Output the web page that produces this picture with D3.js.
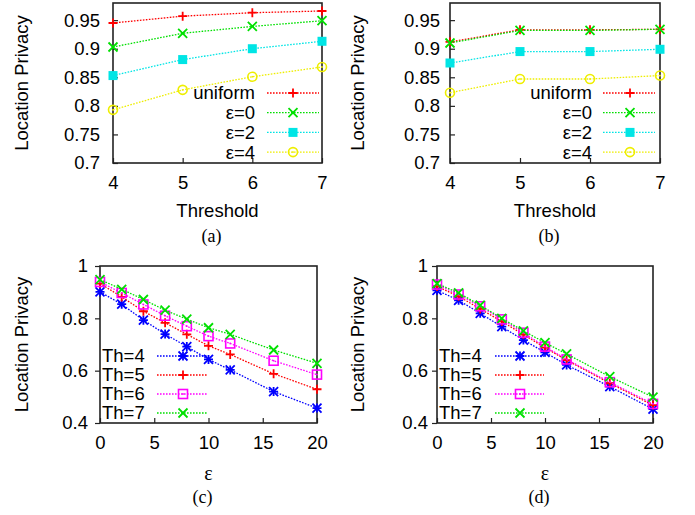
<!DOCTYPE html>
<html>
<head>
<meta charset="utf-8">
<script src="https://cdn.jsdelivr.net/npm/d3@7"></script>
<style>
  body { margin: 0; background: #fff; }
  svg text { font-family: "Liberation Sans", Arial, sans-serif; fill: #000; }
  .cap { font-family: "Liberation Serif", "Times New Roman", serif; }
</style>
</head>
<body>
<div id="chart"></div>
<script>
// x values
const thresholds = [4, 5, 6, 7];
const epsilons = [0, 2, 4, 6, 8, 10, 12, 16, 20];

// panel (a)
const aUniform = [0.945, 0.957, 0.963, 0.966];
const aEps0 = [0.903, 0.927, 0.939, 0.949];
const aEps2 = [0.853, 0.881, 0.900, 0.913];
const aEps4 = [0.793, 0.828, 0.851, 0.868];

// panel (b)
const bUniform = [0.912, 0.933, 0.933, 0.934];
const bEps0 = [0.910, 0.932, 0.932, 0.934];
const bEps2 = [0.875, 0.895, 0.895, 0.899];
const bEps4 = [0.823, 0.847, 0.847, 0.853];

// panel (c)
const cTh4 = [0.901, 0.854, 0.793, 0.740, 0.692, 0.643, 0.603, 0.520, 0.457];
const cTh5 = [0.933, 0.882, 0.827, 0.783, 0.739, 0.695, 0.662, 0.588, 0.529];
const cTh6 = [0.939, 0.897, 0.853, 0.810, 0.770, 0.732, 0.704, 0.638, 0.585];
const cTh7 = [0.948, 0.911, 0.872, 0.831, 0.797, 0.764, 0.739, 0.679, 0.628];

// panel (d)
const dTh4 = [0.907, 0.869, 0.819, 0.768, 0.717, 0.670, 0.622, 0.539, 0.453];
const dTh5 = [0.922, 0.884, 0.836, 0.788, 0.738, 0.688, 0.640, 0.552, 0.468];
const dTh6 = [0.929, 0.891, 0.846, 0.796, 0.745, 0.692, 0.643, 0.556, 0.473];
const dTh7 = [0.933, 0.897, 0.850, 0.800, 0.752, 0.707, 0.664, 0.577, 0.499];

const topLabels = ["uniform", "ε=0", "ε=2", "ε=4"];
const bottomLabels = ["Th=4", "Th=5", "Th=6", "Th=7"];
const topYTicks = [0.7, 0.75, 0.8, 0.85, 0.9, 0.95];
const bottomYTicks = [0.4, 0.6, 0.8, 1];
const bottomXTicks = [0, 5, 10, 15, 20];

const width = 695, height = 515;

const svg = d3.select("#chart").append("svg")
  .attr("width", width)
  .attr("height", height);

svg.append("rect").attr("width", width).attr("height", height).attr("fill", "#fff");

// little gnuplot-ish point shapes
const marker = (g, type, color) => {
  const s = 4.5;
  if (type === "plus" || type === "star") {
    g.append("path").attr("d", `M${-s},0H${s}M0,${-s}V${s}`)
      .attr("stroke", color).attr("stroke-width", 1.8).attr("fill", "none");
  }
  if (type === "cross" || type === "star") {
    g.append("path").attr("d", `M${-s},${-s}L${s},${s}M${-s},${s}L${s},${-s}`)
      .attr("stroke", color).attr("stroke-width", 1.8).attr("fill", "none");
  }
  if (type === "square") {
    g.append("rect").attr("x", -s).attr("y", -s).attr("width", 2 * s).attr("height", 2 * s)
      .attr("fill", color);
  }
  if (type === "squareOpen") {
    g.append("rect").attr("x", -s).attr("y", -s).attr("width", 2 * s).attr("height", 2 * s)
      .attr("fill", "none").attr("stroke", color).attr("stroke-width", 1.6);
    g.append("rect").attr("x", -0.8).attr("y", -0.8).attr("width", 1.6).attr("height", 1.6).attr("fill", color);
  }
  if (type === "circleOpen") {
    g.append("circle").attr("r", s).attr("fill", "none").attr("stroke", color).attr("stroke-width", 1.6);
    g.append("rect").attr("x", -0.8).attr("y", -0.8).attr("width", 1.6).attr("height", 1.6).attr("fill", color);
  }
};

const drawPanel = (p) => {
  const x = d3.scaleLinear().domain(p.xDomain).range([p.left, p.right]);
  const y = d3.scaleLinear().domain(p.yDomain).range([p.bottom, p.top]);
  const g = svg.append("g");

  // ticks + labels via d3 axes
  const xAxis = g.append("g")
    .attr("transform", `translate(0,${p.bottom})`)
    .call(d3.axisBottom(x).tickValues(p.xTicks).tickSize(-5).tickPadding(p.xPad).tickFormat(d => d));
  const yAxis = g.append("g")
    .attr("transform", `translate(${p.left},0)`)
    .call(d3.axisLeft(y).tickValues(p.yTicks).tickSize(p.yTickSize).tickPadding(p.yPad)
      .tickFormat(d => String(+d.toFixed(2))));
  [xAxis, yAxis].forEach(a => {
    a.select(".domain").remove();
    a.selectAll("line").attr("stroke", "#222").attr("stroke-width", 1.2);
    a.selectAll("text").style("font-size", "18.5px").attr("font-family", null);
  });

  // frame
  g.append("rect")
    .attr("x", p.left).attr("y", p.top)
    .attr("width", p.right - p.left).attr("height", p.bottom - p.top)
    .attr("fill", "none").attr("stroke", "#222").attr("stroke-width", 1.6);

  const line = d3.line().x((d, i) => x(p.xs[i])).y(d => y(d));

  p.series.forEach((s, k) => {
    g.append("path")
      .datum(s.values)
      .attr("d", line)
      .attr("fill", "none")
      .attr("stroke", s.color)
      .attr("stroke-width", 1.3)
      .attr("stroke-dasharray", "1.6,1.4");
    s.values.forEach((v, i) => {
      marker(g.append("g").attr("transform", `translate(${x(p.xs[i])},${y(v)})`), s.shape, s.color);
    });

    // legend row
    const ly = p.legendY + k * p.legendStep;
    g.append("line")
      .attr("x1", p.legendLine[0]).attr("x2", p.legendLine[1])
      .attr("y1", ly).attr("y2", ly)
      .attr("stroke", s.color).attr("stroke-width", 1.3).attr("stroke-dasharray", "1.6,1.4");
    marker(g.append("g").attr("transform", `translate(${p.legendMark},${ly})`), s.shape, s.color);
    g.append("text")
      .attr("x", p.legendText)
      .attr("y", ly)
      .attr("dy", "0.35em")
      .attr("text-anchor", p.legendAnchor)
      .style("font-size", "18.5px")
      .text(s.label);
  });

  // axis titles and caption
  g.append("text")
    .attr("transform", `translate(${p.yLabelX},${(p.top + p.bottom) / 2}) rotate(-90)`)
    .attr("text-anchor", "middle")
    .attr("dy", "0.35em")
    .style("font-size", "18.5px")
    .text("Location Privacy");
  g.append("text")
    .attr("class", p.xTitleSerif ? "cap" : null)
    .attr("x", (p.left + p.right) / 2)
    .attr("y", p.xTitleY)
    .attr("dy", "0.35em")
    .attr("text-anchor", "middle")
    .style("font-size", p.xTitleSerif ? "20px" : "18.5px")
    .text(p.xTitle);
  g.append("text")
    .attr("class", "cap")
    .attr("x", (p.left + p.right) / 2 - 6)
    .attr("y", p.capY)
    .attr("dy", "0.35em")
    .attr("text-anchor", "middle")
    .style("font-size", "18px")
    .text(p.caption);
};

const topShapes = ["plus", "cross", "square", "circleOpen"];
const topColors = ["#ff0000", "#00e000", "#00e5e5", "#eeee00"];
const botShapes = ["star", "plus", "squareOpen", "cross"];
const botColors = ["#0000ff", "#ff0000", "#ff00ff", "#00e000"];

const mkSeries = (vals, labels, shapes, colors) =>
  vals.map((v, i) => ({ values: v, label: labels[i], shape: shapes[i], color: colors[i] }));

drawPanel({
  left: 113, right: 322, top: 3, bottom: 163,
  xDomain: [4, 7], yDomain: [0.7, 0.98], xs: thresholds,
  xTicks: thresholds, yTicks: topYTicks, xPad: 13, yTickSize: -5, yPad: 13,
  series: mkSeries([aUniform, aEps0, aEps2, aEps4], topLabels, topShapes, topColors),
  legendY: 93, legendStep: 19.7, legendLine: [267, 319], legendMark: 293, legendText: 255, legendAnchor: "end",
  yLabelX: 22, xTitle: "Threshold", xTitleY: 211, capY: 236, caption: "(a)"
});

drawPanel({
  left: 450, right: 660, top: 3, bottom: 163,
  xDomain: [4, 7], yDomain: [0.7, 0.98], xs: thresholds,
  xTicks: thresholds, yTicks: topYTicks, xPad: 13, yTickSize: -5, yPad: 10,
  series: mkSeries([bUniform, bEps0, bEps2, bEps4], topLabels, topShapes, topColors),
  legendY: 93, legendStep: 19.7, legendLine: [603, 655], legendMark: 630, legendText: 592, legendAnchor: "end",
  yLabelX: 358, xTitle: "Threshold", xTitleY: 211, capY: 236, caption: "(b)"
});

drawPanel({
  left: 100, right: 317, top: 266, bottom: 423,
  xDomain: [0, 20], yDomain: [0.4, 1], xs: epsilons,
  xTicks: bottomXTicks, yTicks: bottomYTicks, xPad: 13, yTickSize: 5, yPad: 7,
  series: mkSeries([cTh4, cTh5, cTh6, cTh7], bottomLabels, botShapes, botColors),
  legendY: 356, legendStep: 19, legendLine: [157, 208], legendMark: 183, legendText: 102, legendAnchor: "start",
  yLabelX: 22, xTitle: "ε", xTitleSerif: true, xTitleY: 473, capY: 497, caption: "(c)"
});

drawPanel({
  left: 437, right: 653, top: 266, bottom: 423,
  xDomain: [0, 20], yDomain: [0.4, 1], xs: epsilons,
  xTicks: bottomXTicks, yTicks: bottomYTicks, xPad: 13, yTickSize: 5, yPad: 4,
  series: mkSeries([dTh4, dTh5, dTh6, dTh7], bottomLabels, botShapes, botColors),
  legendY: 356, legendStep: 19, legendLine: [495, 544], legendMark: 520, legendText: 439, legendAnchor: "start",
  yLabelX: 358, xTitle: "ε", xTitleSerif: true, xTitleY: 473, capY: 497, caption: "(d)"
});
</script>
</body>
</html>
